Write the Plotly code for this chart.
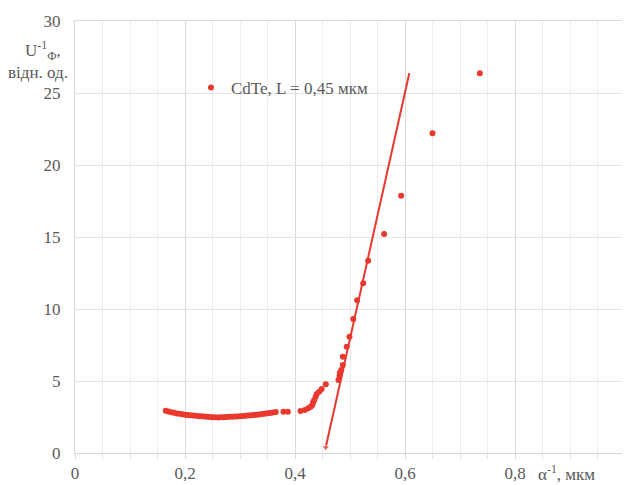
import plotly.graph_objects as go

# ---- data ----
alpha_inv = [0.165, 0.170, 0.175, 0.180, 0.185, 0.190, 0.195, 0.200, 0.205, 0.210,
             0.215, 0.220, 0.225, 0.230, 0.235, 0.240, 0.245, 0.250, 0.255, 0.260,
             0.265, 0.270, 0.275, 0.280, 0.285, 0.290, 0.295, 0.300, 0.305, 0.310,
             0.315, 0.320, 0.325, 0.330, 0.335, 0.340, 0.345, 0.350, 0.355, 0.360,
             0.365, 0.379, 0.387,
             0.410, 0.418, 0.424, 0.4285, 0.4315, 0.433, 0.435, 0.4376, 0.4394, 0.444,
             0.4485, 0.456,
             0.479, 0.481, 0.4815, 0.484, 0.487, 0.487, 0.494, 0.499, 0.506, 0.513,
             0.524, 0.533, 0.562, 0.593, 0.650, 0.736]
u_inv = [2.94, 2.88, 2.83, 2.79, 2.75, 2.72, 2.69, 2.66, 2.64, 2.62,
         2.60, 2.58, 2.56, 2.55, 2.53, 2.52, 2.50, 2.49, 2.48, 2.47,
         2.48, 2.49, 2.50, 2.51, 2.52, 2.53, 2.54, 2.56, 2.57, 2.59,
         2.60, 2.62, 2.64, 2.66, 2.68, 2.70, 2.73, 2.76, 2.78, 2.81,
         2.84, 2.86, 2.87,
         2.92, 2.99, 3.10, 3.22, 3.33, 3.52, 3.68, 3.91, 4.10, 4.26,
         4.44, 4.77,
         5.07, 5.35, 5.55, 5.76, 6.11, 6.69, 7.38, 8.08, 9.30, 10.60,
         11.78, 13.35, 15.20, 17.87, 22.20, 26.37]

fit_x = [0.4558, 0.6078]
fit_y = [0.38, 26.37]

series_name = "CdTe, L = 0,45 мкм"
x_tickvals = [0, 0.2, 0.4, 0.6, 0.8, 1.0]
x_ticktext = ["0", "0,2", "0,4", "0,6", "0,8", "1"]
y_tickvals = [0, 5, 10, 15, 20, 25, 30]

RED = "#E9382D"
GRAY = "#595959"
FONT = "Liberation Serif, Times New Roman, serif"

# page body has an 8px default margin; figure is sized to fill the rest
W, H = 622, 477
L, R, T, B = 67, 5, 13, 32
PW = W - L - R   # 550
PH = H - T - B   # 432

fig = go.Figure()
fig.add_trace(go.Scatter(
    x=fit_x, y=fit_y, mode="lines+markers",
    line=dict(color=RED, width=2),
    marker=dict(color=RED, size=[7, 0], symbol="triangle-down"),
    showlegend=False, hoverinfo="skip"))
fig.add_trace(go.Scatter(
    x=alpha_inv, y=u_inv, mode="markers", name=series_name,
    marker=dict(color=RED, size=6, line=dict(width=0))))


def px(xp):
    # page x pixel -> paper x
    return (xp - 8 - L) / PW


def py(yp):
    # page y pixel -> paper y
    return (H - B + 8 - yp) / PH


# white box behind the legend (covers gridline)
fig.add_shape(type="rect", xref="paper", yref="paper",
              x0=px(173), x1=px(397), y0=py(115), y1=py(64),
              fillcolor="white", line=dict(width=0), layer="between")

fig.update_layout(
    width=W, height=H,
    margin=dict(l=L, r=R, t=T, b=B),
    plot_bgcolor="white", paper_bgcolor="white",
    font=dict(family=FONT, color=GRAY, size=17),
    legend=dict(x=px(191), y=py(88), xanchor="left", yanchor="middle",
                bgcolor="rgba(0,0,0,0)", font=dict(family=FONT, size=17, color=GRAY),
                itemwidth=30),
    xaxis=dict(range=[0, 1], tickvals=x_tickvals, ticktext=x_ticktext,
               automargin=False,
               showgrid=True, gridcolor="#D9D9D9", gridwidth=1,
               ticks="outside", ticklen=5, tickcolor="#D9D9D9",
               zeroline=False, showline=True, linecolor="#D9D9D9", mirror=True,
               minor=dict(dtick=0.05, tick0=0, showgrid=True, gridcolor="#EDEDED",
                          ticks="outside", ticklen=5, tickcolor="#E0E0E0"),
               tickfont=dict(family=FONT, size=17, color=GRAY)),
    yaxis=dict(range=[0, 30], tickvals=y_tickvals,
               automargin=False,
               showgrid=True, gridcolor="#E3E3E3", gridwidth=1,
               ticks="", zeroline=False, showline=True, linecolor="#D9D9D9", mirror=True,
               ticklabelstandoff=10,
               tickfont=dict(family=FONT, size=17, color=GRAY)),
)

fig.add_annotation(xref="paper", yref="paper", x=px(43), y=py(50),
                   text="U<sup>-1</sup><sub>Ф</sub>,", showarrow=False,
                   xanchor="center", yanchor="middle",
                   font=dict(family=FONT, size=17, color=GRAY))
fig.add_annotation(xref="paper", yref="paper", x=px(38), y=py(72),
                   text="відн. од.", showarrow=False,
                   xanchor="center", yanchor="middle",
                   font=dict(family=FONT, size=17, color=GRAY))
fig.add_annotation(xref="paper", yref="paper", x=px(566), y=py(473),
                   text="α<sup>-1</sup>, мкм", showarrow=False,
                   xanchor="center", yanchor="middle",
                   font=dict(family=FONT, size=17, color=GRAY))

fig.write_html("out.html")
